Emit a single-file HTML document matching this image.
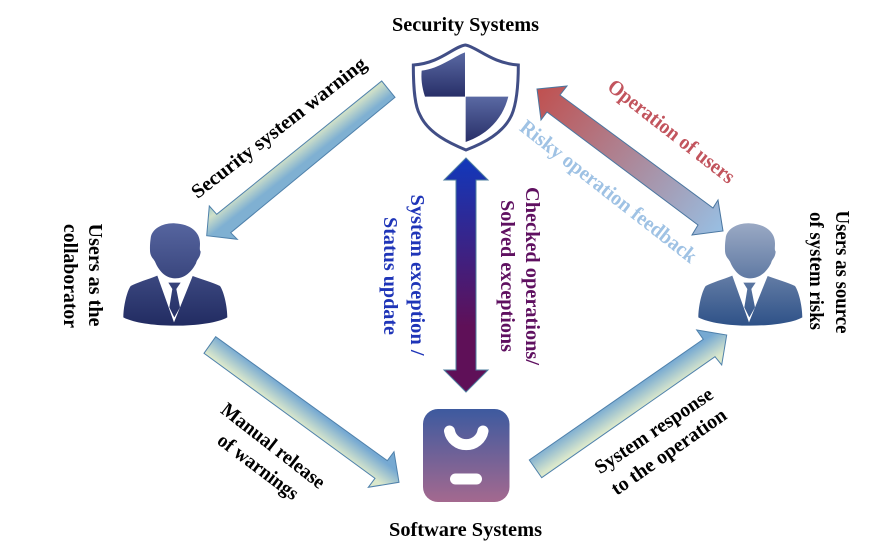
<!DOCTYPE html>
<html>
<head>
<meta charset="utf-8">
<style>
html,body{margin:0;padding:0;background:#fff;}
svg{display:block;}
text{font-family:"Liberation Serif",serif;font-weight:bold;text-anchor:middle;}
</style>
</head>
<body>
<svg width="896" height="560" viewBox="0 0 896 560" xmlns="http://www.w3.org/2000/svg">
<defs>
<linearGradient id="sq" x1="0" y1="0" x2="0" y2="1"><stop offset="0" stop-color="#5a69a3"/><stop offset="1" stop-color="#282f68"/></linearGradient>
<linearGradient id="pL" gradientUnits="userSpaceOnUse" x1="0" y1="40" x2="0" y2="345"><stop offset="0" stop-color="#56659f"/><stop offset="1" stop-color="#222c62"/></linearGradient>
<linearGradient id="pR" gradientUnits="userSpaceOnUse" x1="0" y1="40" x2="0" y2="345"><stop offset="0" stop-color="#9aa9c4"/><stop offset="1" stop-color="#2f5288"/></linearGradient>
<linearGradient id="sw" x1="0" y1="0" x2="0" y2="1"><stop offset="0" stop-color="#3d5a9f"/><stop offset="1" stop-color="#a4698f"/></linearGradient>
<linearGradient id="v" gradientUnits="userSpaceOnUse" x1="0" y1="158" x2="0" y2="392"><stop offset="0" stop-color="#1138bb"/><stop offset="0.72" stop-color="#5f1058"/><stop offset="1" stop-color="#5f1058"/></linearGradient>
<linearGradient id="d" gradientUnits="userSpaceOnUse" x1="537" y1="89" x2="723" y2="231"><stop offset="0" stop-color="#c0504f"/><stop offset="1" stop-color="#98bfe3"/></linearGradient>
<linearGradient id="a1" gradientUnits="userSpaceOnUse" x1="286" y1="148" x2="300" y2="166"><stop offset="0" stop-color="#a5cccb"/><stop offset="0.35" stop-color="#cfe0c8"/><stop offset="1" stop-color="#7fb0d2"/></linearGradient>
<linearGradient id="a2" gradientUnits="userSpaceOnUse" x1="302" y1="400" x2="290" y2="416"><stop offset="0" stop-color="#76a9d2"/><stop offset="1" stop-color="#dbe8cc"/></linearGradient>
<linearGradient id="a3" gradientUnits="userSpaceOnUse" x1="620" y1="396" x2="632" y2="414"><stop offset="0" stop-color="#76a9d2"/><stop offset="1" stop-color="#dbe8cc"/></linearGradient>
<g id="man">
<path d="M122,85 C125,55 160,38 195,40 C240,42 270,65 270,100 C270,115 268,118 272,125 C270,145 262,145 258,160 C245,185 225,205 195,205 C165,205 145,180 135,155 C130,145 120,140 120,120 C120,105 120,100 122,85 Z"/>
<path d="M142,197 C115,208 80,218 62,228 C50,245 40,290 40,322 C70,338 130,347 195,347 C260,347 325,338 352,322 C352,290 342,245 330,228 C310,218 275,208 248,198 L192,337 Z"/>
<path d="M175,218 L212,218 L199,237 L210,292 L193,322 L178,292 L187,237 Z"/>
</g>
</defs>

<!-- shield -->
<g transform="translate(390,40) scale(0.3333)">
<path d="M226,15 C190,20 150,70 70,75 C70,150 75,200 90,225 C115,280 180,310 228,330 C280,310 340,280 365,225 C380,190 385,130 385,75 C305,70 260,20 226,15 Z" fill="#fff" stroke="#414e86" stroke-width="9"/>
<path d="M225,37 L225,170 L105,170 C95,140 93,115 95,92 C150,85 190,50 225,37 Z" fill="url(#sq)"/>
<path d="M227,170 L355,170 C340,230 300,280 227,306 Z" fill="url(#sq)"/>
</g>

<!-- people -->
<g transform="translate(110,210) scale(0.3333)" fill="url(#pL)"><use href="#man"/></g>
<g transform="translate(685,210) scale(0.3333)" fill="url(#pR)"><use href="#man"/></g>

<!-- software icon -->
<rect x="423" y="409" width="86.500" height="93" rx="15" fill="url(#sw)"/>
<path d="M449.500,431 A17,16.500 0 0 0 483,431" fill="none" stroke="#fff" stroke-width="11" stroke-linecap="round"/>
<rect x="450" y="473.500" width="32" height="11" rx="5.500" fill="#fff"/>

<!-- arrows -->
<polygon points="466,158 488,180 476,180 476,370 488,370 466,392 444,370 456,370 456,180 444,180" fill="url(#v)" stroke="#4f7f9f" stroke-width="1"/>
<polygon points="537,89 567,86 560,95 713,208 718,200 723,231 692,235 698,225 547,112 541,120" fill="url(#d)" stroke="#4a76a0" stroke-width="1"/>
<polygon points="381.700,81 395,97.300 230.700,232.700 237.300,239.300 206.700,235.700 209.300,206 216.700,214.300" fill="url(#a1)" stroke="#4f81ab" stroke-width="1"/>
<polygon points="215.700,336.700 204,353.300 375,478.300 368.300,487.300 399,482.300 394,451.700 387.300,460.700" fill="url(#a2)" stroke="#4f81ab" stroke-width="1"/>
<polygon points="529.300,460 541.700,477.700 715,356.700 721.700,365 726.700,335 696.700,330 703.300,339.300" fill="url(#a3)" stroke="#4f81ab" stroke-width="1"/>

<!-- labels -->
<text x="465.500" y="31" font-size="20" textLength="147" lengthAdjust="spacingAndGlyphs" fill="#000">Security Systems</text>
<text x="465.500" y="536" font-size="20" textLength="153" lengthAdjust="spacingAndGlyphs" fill="#000">Software Systems</text>

<text transform="translate(279,128) rotate(-38)" y="6" font-size="20" textLength="216" lengthAdjust="spacingAndGlyphs" fill="#000">Security system warning</text>
<text transform="translate(273,446) rotate(38)" y="6" font-size="20" textLength="126" lengthAdjust="spacingAndGlyphs" fill="#000">Manual release</text>
<text transform="translate(258,467) rotate(37)" y="6" font-size="20" textLength="96" lengthAdjust="spacingAndGlyphs" fill="#000">of warnings</text>
<text transform="translate(654,431) rotate(-34)" y="6" font-size="20" textLength="138" lengthAdjust="spacingAndGlyphs" fill="#000">System response</text>
<text transform="translate(669,452) rotate(-35)" y="6" font-size="20" textLength="136" lengthAdjust="spacingAndGlyphs" fill="#000">to the operation</text>

<text transform="translate(671,132) rotate(38)" y="6" font-size="21" textLength="155" lengthAdjust="spacingAndGlyphs" fill="#c2545d">Operation of users</text>
<text transform="translate(608,192) rotate(38)" y="6" font-size="21" textLength="218" lengthAdjust="spacingAndGlyphs" fill="#9fc2e4">Risky operation feedback</text>

<text transform="translate(532,276) rotate(90)" y="6" font-size="20" textLength="178" lengthAdjust="spacingAndGlyphs" fill="#5f1060">Checked operations/</text>
<text transform="translate(507,276) rotate(90)" y="6" font-size="20" textLength="152" lengthAdjust="spacingAndGlyphs" fill="#5f1060">Solved exceptions</text>
<text transform="translate(417,275) rotate(90)" y="6" font-size="20" textLength="161" lengthAdjust="spacingAndGlyphs" fill="#1f35b8">System exception /</text>
<text transform="translate(390,276) rotate(90)" y="6" font-size="20" textLength="118" lengthAdjust="spacingAndGlyphs" fill="#1f35b8">Status update</text>

<text transform="translate(95,275) rotate(90)" y="6" font-size="20" textLength="103" lengthAdjust="spacingAndGlyphs" fill="#000">Users as the</text>
<text transform="translate(70,276) rotate(90)" y="6" font-size="20" textLength="104" lengthAdjust="spacingAndGlyphs" fill="#000">collaborator</text>
<text transform="translate(842,272) rotate(90)" y="6" font-size="20" textLength="123" lengthAdjust="spacingAndGlyphs" fill="#000">Users as source</text>
<text transform="translate(816,271) rotate(90)" y="6" font-size="20" textLength="118" lengthAdjust="spacingAndGlyphs" fill="#000">of system risks</text>
</svg>
</body>
</html>
